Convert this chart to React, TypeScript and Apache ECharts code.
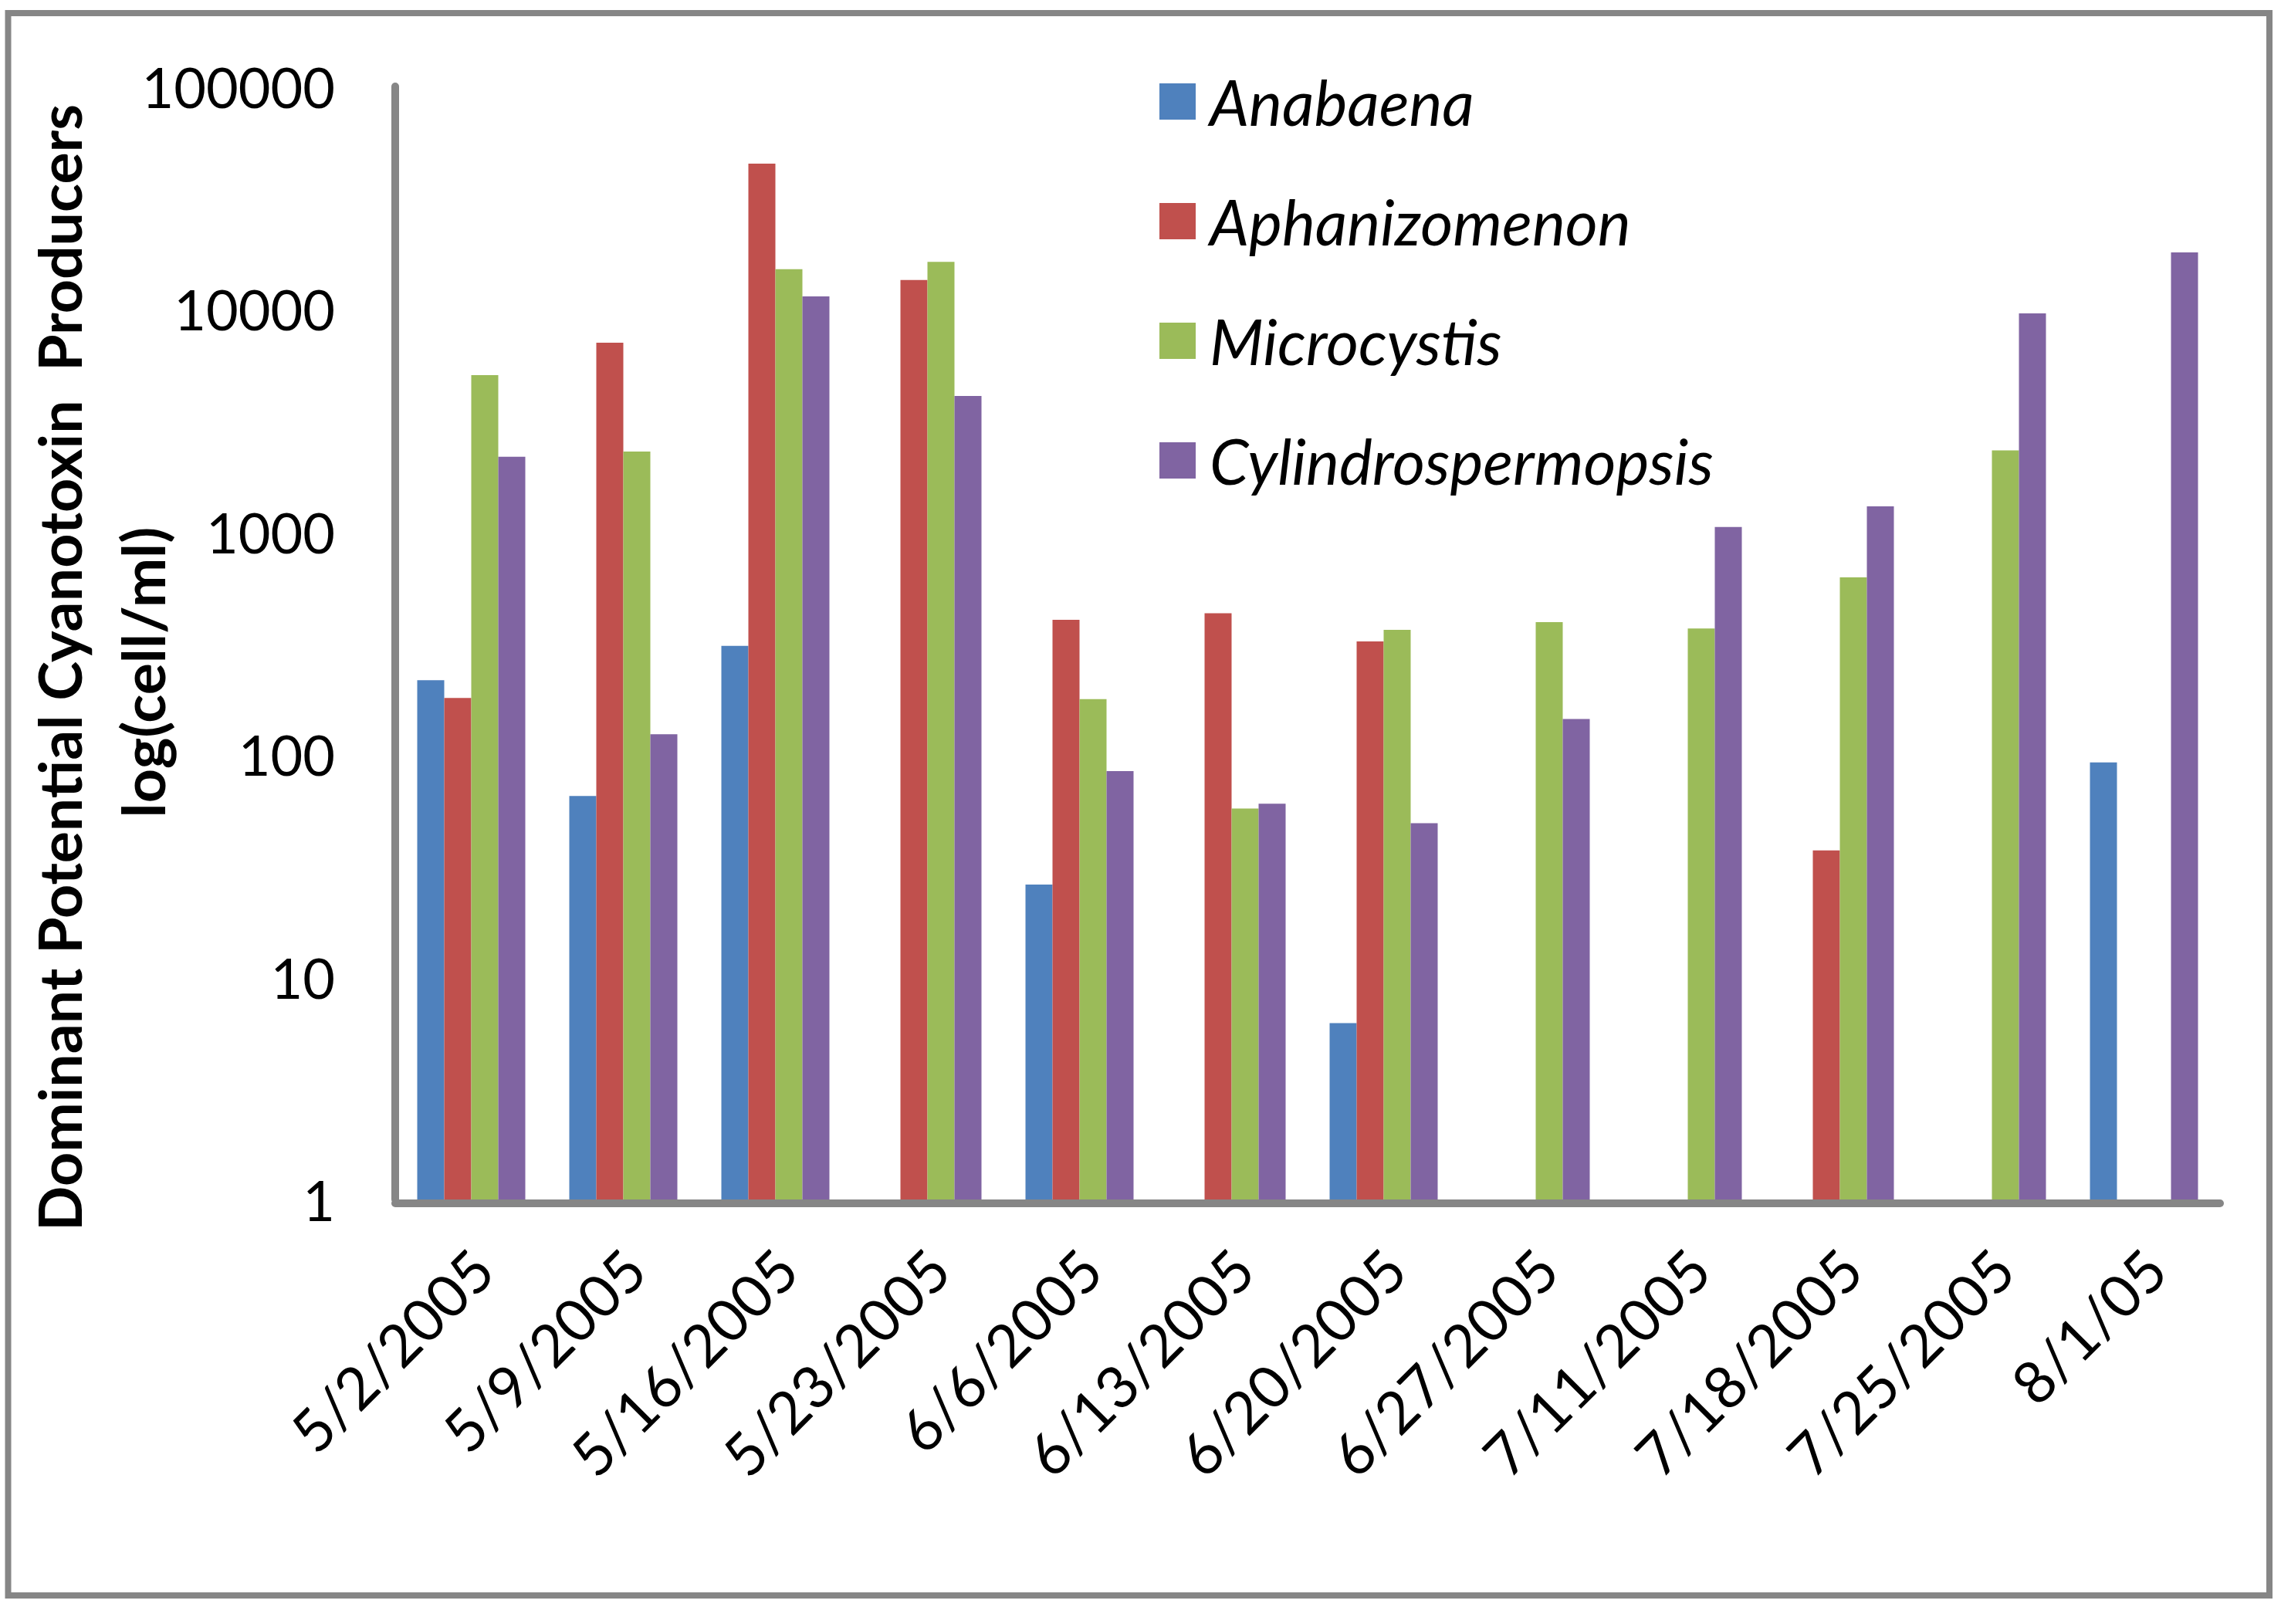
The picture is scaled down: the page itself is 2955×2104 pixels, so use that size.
import React, { useEffect, useRef } from "react";
import * as echarts from "echarts";

const categories = [
  "5/2/2005", "5/9/2005", "5/16/2005", "5/23/2005", "6/6/2005", "6/13/2005",
  "6/20/2005", "6/27/2005", "7/11/2005", "7/18/2005", "7/25/2005", "8/1/05",
];
const seriesNames = ["Anabaena", "Aphanizomenon", "Microcystis", "Cylindrospermopsis"];
const seriesColors = ["#4F81BD", "#C0504D", "#9BBB59", "#8064A2"];
const anabaena = [215, 65, 307, null, 26, null, 6.2, null, null, null, null, 92];
const aphanizomenon = [179, 7060, 45000, 13500, 402, 430, 321, null, null, 37, null, null];
const microcystis = [5050, 2290, 15100, 16300, 177, 57, 362, 392, 367, 623, 2320, null];
const cylindrospermopsis = [2170, 123, 11400, 4070, 84, 60, 49, 144, 1050, 1300, 9560, 17960];
const yTickLabels = ["1", "10", "100", "1000", "10000", "100000"];
const yTitleLine1 = "Dominant Potential Cyanotoxin  Producers";
const yTitleLine2 = "log(cell/ml)";

const FONT = "Lato";

export default function App() {
  const ref = useRef<HTMLDivElement>(null);
  useEffect(() => {
    if (!ref.current) return;
    const chart = echarts.init(ref.current, null, { renderer: "svg" });
    const values = [anabaena, aphanizomenon, microcystis, cylindrospermopsis];
    const option = {
      animation: false,
      backgroundColor: "#ffffff",
      grid: { left: 512, right: 79, top: 112, bottom: 550, containLabel: false },
      legend: {
        orient: "vertical",
        left: 1502,
        top: 91,
        padding: 0,
        itemWidth: 47,
        itemHeight: 47,
        itemGap: 74,
        icon: "rect",
        data: seriesNames,
        textStyle: {
          fontFamily: FONT,
          fontStyle: "italic",
          fontSize: 81,
          color: "#000",
          padding: [0, 0, 0, 13],
        },
      },
      xAxis: {
        type: "category",
        data: categories,
        offset: 5,
        axisLine: { show: true, lineStyle: { color: "#868686", width: 10 } },
        axisTick: { show: false },
        axisLabel: {
          interval: 0,
          rotate: 45,
          margin: 86,
          padding: [0, -20, 0, 0],
          fontFamily: FONT,
          fontSize: 76,
          color: "#000",
        },
      },
      yAxis: {
        type: "log",
        logBase: 10,
        min: 1,
        max: 100000,
        axisLine: { show: true, lineStyle: { color: "#868686", width: 10 } },
        axisTick: { show: false },
        splitLine: { show: false },
        axisLabel: {
          margin: 78,
          fontFamily: FONT,
          fontSize: 72,
          color: "#000",
          formatter: (v: number) => yTickLabels[Math.round(Math.log10(v))] ?? String(v),
        },
      },
      series: seriesNames.map((name, i) => ({
        name,
        type: "bar",
        data: values[i].map((v) => (v == null ? "-" : v)),
        barWidth: 35,
        barGap: "0%",
        itemStyle: { color: seriesColors[i] },
      })),
      graphic: [
        {
          type: "rect",
          z: -10,
          shape: { x: 10.5, y: 17, width: 2929.5, height: 2050 },
          style: { fill: "transparent", stroke: "#868686", lineWidth: 8 },
        },
        {
          type: "text",
          x: 76,
          y: 865,
          rotation: Math.PI / 2,
          style: {
            text: yTitleLine1,
            fontFamily: FONT,
            fontWeight: "bold",
            fontSize: 77,
            fill: "#000",
            align: "center",
            verticalAlign: "middle",
          },
        },
        {
          type: "text",
          x: 184,
          y: 871,
          rotation: Math.PI / 2,
          style: {
            text: yTitleLine2,
            fontFamily: FONT,
            fontWeight: "bold",
            fontSize: 77,
            fill: "#000",
            align: "center",
            verticalAlign: "middle",
          },
        },
      ],
    };
    chart.setOption(option as any);
    return () => chart.dispose();
  }, []);
  return (
    <div
      ref={ref}
      style={{ position: "absolute", left: 0, top: 0, width: 2955, height: 2104 }}
    />
  );
}
